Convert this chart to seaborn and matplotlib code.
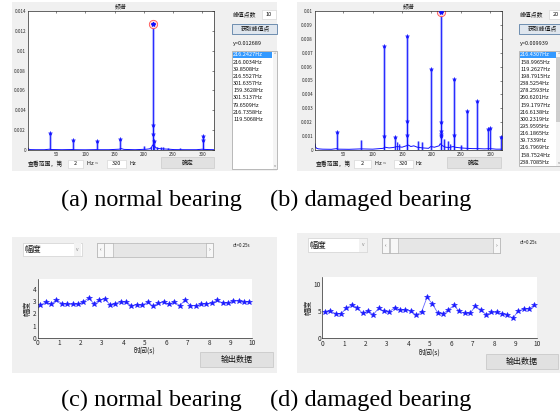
import seaborn as sns
import matplotlib.pyplot as plt
from matplotlib.patches import Rectangle

# ---- spectrum (a): normal bearing, 10 picked peaks (freq Hz, amplitude)
peak_a_f = [216.2427, 216.0034, 39.8508, 216.5527, 301.6357, 159.3628, 301.5137, 79.6509, 216.7358, 119.5068]
peak_a_y = [0.012689, 0.0025, 0.0017, 0.0016, 0.00142, 0.00112, 0.00100, 0.00098, 0.00094, 0.00090]
minor_a_f = [199.5, 212.8, 222.0, 229.5, 233.0, 240.5, 262.0]
minor_a_y = [0.00040, 0.00030, 0.00035, 0.00030, 0.00028, 0.00022, 0.00020]
noise_a_f = [2, 3, 6, 15, 30, 39, 41, 60, 79, 81, 100, 119, 121, 140, 158, 161, 166, 185,
             197, 205, 210, 213, 215, 218, 221, 225, 230, 236, 243, 252, 270, 290, 300, 303, 320]
noise_a_y = [0.00020, 0.00008, 0.00004, 0.00003, 0.00003, 0.00008, 0.00005, 0.00003, 0.00005, 0.00003,
             0.00002, 0.00004, 0.00003, 0.00003, 0.00008, 0.00015, 0.00006, 0.00003,
             0.00006, 0.00008, 0.00012, 0.00025, 0.00050, 0.00040, 0.00022, 0.00015, 0.00012, 0.00010,
             0.00008, 0.00004, 0.00003, 0.00003, 0.00008, 0.00006, 0.00003]

# ---- spectrum (b): damaged bearing, 20 picked peaks
peak_b_f = [216.4307, 158.9965, 119.2627, 198.7915, 238.5254, 278.2593, 260.6201, 159.1797, 216.6138, 300.2319,
            295.9595, 216.1865, 39.7339, 216.7969, 158.7524, 238.7085, 119.4458, 216.9800, 319.1000, 137.9200]
peak_b_y = [0.009939, 0.0082, 0.0075, 0.0058, 0.0051, 0.0035, 0.0028, 0.0021, 0.0020, 0.0016,
            0.0015, 0.0014, 0.0013, 0.00115, 0.0011, 0.00105, 0.00104, 0.00100, 0.00097, 0.00093]
minor_b_f = [79.5, 141.0, 145.5, 177.5, 183.5, 222.0, 228.0, 232.0, 250.0]
minor_b_y = [0.00072, 0.00055, 0.00040, 0.00062, 0.00060, 0.00080, 0.00062, 0.00045, 0.00035]
noise_b_f = [2, 3, 5, 8, 15, 30, 39, 41, 60, 80, 100, 118, 121, 128, 135, 142, 150, 157, 161, 165, 170,
             176, 185, 195, 199, 205, 213, 215, 219, 224, 230, 237, 240, 250, 260, 270, 280, 290, 300, 310, 320]
noise_b_y = [0.00045, 0.00020, 0.00012, 0.00008, 0.00006, 0.00005, 0.00010, 0.00006, 0.00005, 0.00008,
             0.00006, 0.00012, 0.00020, 0.00015, 0.00018, 0.00025, 0.00020, 0.00030, 0.00035, 0.00025,
             0.00030, 0.00020, 0.00015, 0.00012, 0.00025, 0.00020, 0.00030, 0.00045, 0.00030, 0.00020,
             0.00018, 0.00025, 0.00020, 0.00015, 0.00012, 0.00010, 0.00010, 0.00008, 0.00010, 0.00006, 0.00006]

# ---- amplitude vs time (c), (d); dt = 0.25 s
times = [0.125, 0.375, 0.625, 0.875, 1.125, 1.375, 1.625, 1.875, 2.125, 2.375,
         2.625, 2.875, 3.125, 3.375, 3.625, 3.875, 4.125, 4.375, 4.625, 4.875,
         5.125, 5.375, 5.625, 5.875, 6.125, 6.375, 6.625, 6.875, 7.125, 7.375,
         7.625, 7.875, 8.125, 8.375, 8.625, 8.875, 9.125, 9.375, 9.625, 9.875]
amp_c = [2.70, 2.93, 2.76, 3.13, 2.82, 2.76, 2.76, 2.76, 2.96, 3.27,
         2.82, 3.10, 3.21, 2.73, 2.82, 2.99, 2.93, 2.65, 2.73, 2.68,
         2.93, 2.62, 2.85, 2.93, 2.76, 2.96, 2.65, 3.10, 2.65, 2.65,
         2.76, 2.82, 2.85, 3.10, 2.87, 2.87, 3.04, 3.04, 2.93, 2.99]
amp_d = [4.90, 5.06, 4.56, 4.56, 5.60, 6.20, 5.70, 4.60, 5.06, 4.40,
         5.56, 5.00, 4.90, 5.70, 5.25, 5.25, 5.00, 4.30, 4.90, 7.56,
         6.40, 4.70, 4.56, 5.25, 6.10, 5.00, 4.60, 4.60, 5.90, 5.30,
         4.40, 4.80, 4.80, 4.56, 4.40, 3.70, 5.06, 5.40, 5.50, 6.10]

freq_ticks = [50, 100, 150, 200, 250, 300]
yt_a = [0, 0.002, 0.004, 0.006, 0.008, 0.01, 0.012, 0.014]
yt_a_lab = ['0', '0.002', '0.004', '0.006', '0.008', '0.01', '0.012', '0.014']
yt_b = [0, 0.001, 0.002, 0.003, 0.004, 0.005, 0.006, 0.007, 0.008, 0.009, 0.01]
yt_b_lab = ['0', '0.001', '0.002', '0.003', '0.004', '0.005', '0.006', '0.007', '0.008', '0.009', '0.01']

sns.set_theme(style='white')
plt.rcParams['font.family'] = ['Noto Sans CJK SC', 'DejaVu Sans']

W, H = 560, 420
fig = plt.figure(figsize=(5.6, 4.2), dpi=100)
fig.patch.set_facecolor('white')

ui = fig.add_axes([0, 0, 1, 1])
ui.set_xlim(0, W)
ui.set_ylim(H, 0)
ui.axis('off')

GRAY = '#f0f0f0'
INK = '#262626'


def box(x0, y0, x1, y1, fc, ec='none', lw=0.5):
    ui.add_patch(Rectangle((x0, y0), x1 - x0, y1 - y0, facecolor=fc, edgecolor=ec, linewidth=lw))


def txt(x, y, s, size=4.2, **kw):
    ui.text(x, y, s, fontsize=size, va='center', color=kw.pop('color', '#111111'), **kw)


def px_axes(x0, y0, x1, y1):
    return fig.add_axes([x0 / W, 1 - y1 / H, (x1 - x0) / W, (y1 - y0) / H])


# ---------- spectrum panels ----------
def spectrum_panel(gx0, gx1, ax_box, peak_f, peak_y, minor_f, minor_y, nf, ny,
                   yt, ytl, ymax, npeaks, ctl_x, ctl_x1, list_y1, nshow, scroll_full):
    box(gx0, 2, gx1, 171, GRAY)
    ax = px_axes(*ax_box)
    ax.set_facecolor('white')
    # light halos + stems
    allf = list(peak_f) + list(minor_f)
    ally = list(peak_y) + list(minor_y)
    ax.vlines(allf, 0, ally, color='#b8bdff', lw=2.2, zorder=1)
    ax.vlines(allf, 0, ally, color='#1010ff', lw=0.6, zorder=2)
    sns.lineplot(x=nf, y=ny, ax=ax, color='#1010ff', lw=0.7, estimator=None, sort=False, zorder=2)
    sns.scatterplot(x=peak_f, y=peak_y, ax=ax, marker='*', s=9, color='#1010ff',
                    edgecolor='#1010ff', linewidth=0.3, zorder=3)
    ax.plot([peak_f[0]], [peak_y[0]], 'o', ms=6, mfc='#ffe0e0', mec='#ff5050', mew=0.6, zorder=2.5)
    ax.plot([peak_f[0]], [peak_y[0]], '*', ms=3, color='#1010ff', zorder=4)
    ax.set_xlim(2, 320)
    ax.set_ylim(0, ymax)
    ax.set_xticks(freq_ticks)
    ax.set_yticks(yt)
    ax.set_yticklabels(ytl)
    ax.set_xlabel('')
    ax.set_ylabel('')
    ax.tick_params(direction='in', length=1.5, width=0.4, labelsize=3.3, colors=INK, pad=1.5,
                   top=True, right=True)
    for s in ax.spines.values():
        s.set_linewidth(0.5)
        s.set_color(INK)
    ax.set_title('频谱', fontsize=4.2, pad=2, color='#111111')

    # right-hand controls
    txt(ctl_x + 1, 14, '峰值点数')
    box(ctl_x + 30, 10, min(ctl_x + 44, 560), 18.5, 'white', '#d0d0d0', 0.4)
    txt(ctl_x + 34, 14.3, str(npeaks), size=4)
    box(ctl_x, 23.5, ctl_x1, 34, '#dfe6ee', '#5b7fa6', 0.6)
    txt(ctl_x + 23, 28.8, '获取峰值点', ha='center')
    txt(ctl_x + 1, 43, 'y=%.6f' % peak_y[0], size=4)
    box(ctl_x, 51, ctl_x1, list_y1, 'white', '#a0a0a0', 0.5)
    # list items
    box(ctl_x + 0.7, 51.6, ctl_x + 40, 58.4, '#3399ff')
    for i in range(nshow):
        txt(ctl_x + 1.2, 55 + i * 7.15, '%.4fHz' % peak_f[i], size=4,
            color='white' if i == 0 else '#111111')
    # scrollbar
    if scroll_full:
        box(ctl_x + 40.5, 51.5, ctl_x + 45, list_y1 - 0.5, '#f4f4f4')
        txt(ctl_x + 42.7, 54, '^', size=3, ha='center', color='#777777')
        txt(ctl_x + 42.7, list_y1 - 3, 'v', size=3, ha='center', color='#777777')
    else:
        box(ctl_x + 37, 51.5, 560, list_y1 - 0.5, '#f4f4f4')
        box(ctl_x + 37.3, 57, 560, 122, '#cdcdcd')
        txt(ctl_x + 38.5, 54, '^', size=3, color='#777777')
        txt(ctl_x + 38.5, list_y1 - 3, 'v', size=3, color='#777777')


spectrum_panel(12, 277, (28, 11, 214, 150), peak_a_f, peak_a_y, minor_a_f, minor_a_y,
               noise_a_f, noise_a_y, yt_a, yt_a_lab, 0.014, 10, 232, 277, 169, 10, True)
spectrum_panel(297, 560, (315, 11, 502, 150), peak_b_f, peak_b_y, minor_b_f, minor_b_y,
               noise_b_f, noise_b_y, yt_b, yt_b_lab, 0.01, 20, 519, 562, 166, 16, False)

# frequency-range row below the spectra
for (lx, b1, hz1, b2, hz2, bt) in [(28, (68, 83), 87, (107, 126), 129, (160.7, 214)),
                                  (315.5, (354, 370.7), 375, (394, 412.7), 415, (447, 500.7))]:
    txt(lx, 163.5, '查看范围，第')
    box(b1[0], 160, b1[1], 167.5, 'white', '#d0d0d0', 0.4)
    txt((b1[0] + b1[1]) / 2, 163.8, '2', ha='center', size=4)
    txt(hz1, 163.5, 'Hz ~', size=4)
    box(b2[0], 160, b2[1], 167.5, 'white', '#d0d0d0', 0.4)
    txt((b2[0] + b2[1]) / 2, 163.8, '320', ha='center', size=4)
    txt(hz2, 163.5, 'Hz', size=4)
    box(bt[0], 157, bt[1], 168, '#e1e1e1', '#c4c4c4', 0.4)
    txt((bt[0] + bt[1]) / 2, 162.6, '确定', ha='center')


# ---------- amplitude panels ----------
def amp_panel(gx0, gx1, gy0, ax_box, amps, ymax, yticks, dd, sl, thumb, dtx, dty, btn, xlab_y):
    box(gx0, gy0, gx1, 373, GRAY)
    # dropdown
    box(dd[0], dd[1], dd[2], dd[3], 'white', '#c8c8c8', 0.4)
    box(dd[2] - 8, dd[1] + 0.5, dd[2] - 0.5, dd[3] - 0.5, '#f2f2f2')
    txt(dd[0] + 1.5, (dd[1] + dd[3]) / 2, '幅度', size=6)
    txt(dd[2] - 4.3, (dd[1] + dd[3]) / 2, 'v', size=3.5, ha='center', color='#888888')
    # slider
    box(sl[0], sl[1], sl[2], sl[3], '#e6e6e6', '#a8a8a8', 0.4)
    box(sl[0], sl[1], sl[0] + 7, sl[3], '#f7f7f7', '#a8a8a8', 0.4)
    box(sl[2] - 7, sl[1], sl[2], sl[3], '#f7f7f7', '#a8a8a8', 0.4)
    box(thumb[0], sl[1], thumb[1], sl[3], '#f7f7f7', '#a8a8a8', 0.4)
    txt(sl[0] + 3.5, (sl[1] + sl[3]) / 2, '‹', size=4, ha='center', color='#555555')
    txt(sl[2] - 3.5, (sl[1] + sl[3]) / 2, '›', size=4, ha='center', color='#555555')
    txt(dtx, dty, 'dt=0.25s', size=3.2)
    # output button
    box(btn[0], btn[1], btn[2], btn[3], '#e1e1e1', '#c4c4c4', 0.5)
    txt((btn[0] + btn[2]) / 2, (btn[1] + btn[3]) / 2, '输出数据', size=5.8, ha='center')

    ax = px_axes(*ax_box)
    ax.set_facecolor('white')
    sns.lineplot(x=times, y=amps, ax=ax, color='#6a6aff', lw=0.6, marker='*', markersize=4,
                 markerfacecolor='#1a1aff', markeredgecolor='#1a1aff', markeredgewidth=0.4)
    ax.set_xlim(0, 10)
    ax.set_ylim(0, ymax)
    ax.set_xticks(range(0, 11))
    ax.set_yticks(yticks)
    ax.set_xlabel('')
    ax.set_ylabel('幅度', fontsize=5.5, labelpad=1, color='#222222')
    ax.tick_params(direction='in', length=1.5, width=0.4, labelsize=4.6, colors=INK, pad=1)
    sns.despine(ax=ax)
    for s in ('left', 'bottom'):
        ax.spines[s].set_linewidth(0.5)
        ax.spines[s].set_color(INK)
    cx = (ax_box[0] + ax_box[2]) / 2
    txt(cx, xlab_y, '时间(s)', size=5, ha='center')


amp_panel(12, 277, 237, (37.7, 279, 252, 337.7), amp_c, 4.85, [0, 1, 2, 3, 4],
          (22.7, 242.7, 81.7, 256), (96.7, 242.5, 213.3, 256.5), (104, 113), 233, 245.5,
          (200, 351.7, 273, 367.3), 351)
amp_panel(297, 560, 233, (322.3, 276.7, 537, 338.3), amp_d, 11.4, [0, 5, 10],
          (307.7, 238, 367.3, 252), (381.7, 238, 500, 253.3), (390, 398), 520, 242,
          (486, 354, 558, 369.3), 352.5)

# ---------- captions ----------
cap = dict(ha='center', va='center', fontsize=17.5, family='Liberation Serif', color='black')
fig.text(151.5 / W, 1 - 200 / H, '(a) normal bearing', **cap)
fig.text(370.5 / W, 1 - 200 / H, '(b) damaged bearing', **cap)
fig.text(151.5 / W, 1 - 400 / H, '(c) normal bearing', **cap)
fig.text(370.5 / W, 1 - 400 / H, '(d) damaged bearing', **cap)

fig.savefig('out.png', dpi=100, facecolor='white')
